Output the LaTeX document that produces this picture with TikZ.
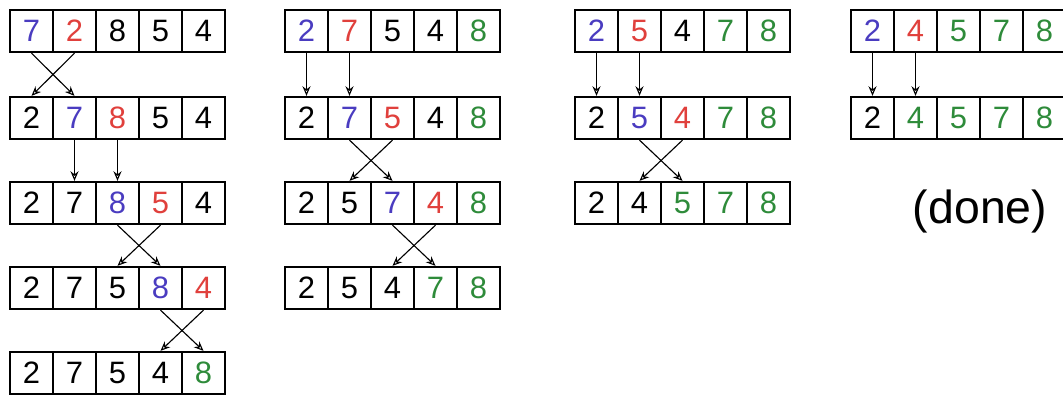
\documentclass[tikz,border=0pt]{standalone}
\usepackage{fontspec}
\setmainfont{Liberation Sans}
\usetikzlibrary{arrows.meta}
\definecolor{cblue}{HTML}{4A3CC0}
\definecolor{cred}{HTML}{E0403C}
\definecolor{cgreen}{HTML}{2E8B3A}
\tikzset{
  cell/.style={draw, line width=1.6pt, minimum width=1.075cm, minimum height=1.05cm, inner sep=0pt, font=\fontsize{22}{24}\selectfont},
  move/.style={-{Stealth[open, length=2.4mm, width=2mm]}, line width=0.8pt},
  note/.style={font=\fontsize{33}{36}\selectfont},
}
% one row of five cells, named #1-1 ... #1-5
\newcommand{\cellrow}[4]{%
  \foreach \v/\c [count=\i] in {#4}
    \node[cell, text=\c] (#1-\i) at ({#2+43*(\i-1)}, #3) {\v};}

\begin{document}
\begin{tikzpicture}[x=0.025cm, y=-0.025cm]
  \useasboundingbox (0,0) rectangle (1063,396);
  % pass 1
  \cellrow{p1r1}{31.5}{31}{7/cblue, 2/cred, 8/black, 5/black, 4/black}
  \cellrow{p1r2}{31.5}{118}{2/black, 7/cblue, 8/cred, 5/black, 4/black}
  \cellrow{p1r3}{31.5}{203}{2/black, 7/black, 8/cblue, 5/cred, 4/black}
  \cellrow{p1r4}{31.5}{288}{2/black, 7/black, 5/black, 8/cblue, 4/cred}
  \cellrow{p1r5}{31.5}{373}{2/black, 7/black, 5/black, 4/black, 8/cgreen}
  \draw[move] (p1r1-1.south) -- (p1r2-2.north);
  \draw[move] (p1r1-2.south) -- (p1r2-1.north);
  \draw[move] (p1r2-2.south) -- (p1r3-2.north);
  \draw[move] (p1r2-3.south) -- (p1r3-3.north);
  \draw[move] (p1r3-3.south) -- (p1r4-4.north);
  \draw[move] (p1r3-4.south) -- (p1r4-3.north);
  \draw[move] (p1r4-4.south) -- (p1r5-5.north);
  \draw[move] (p1r4-5.south) -- (p1r5-4.north);
  % pass 2
  \cellrow{p2r1}{306.5}{31}{2/cblue, 7/cred, 5/black, 4/black, 8/cgreen}
  \cellrow{p2r2}{306.5}{118}{2/black, 7/cblue, 5/cred, 4/black, 8/cgreen}
  \cellrow{p2r3}{306.5}{203}{2/black, 5/black, 7/cblue, 4/cred, 8/cgreen}
  \cellrow{p2r4}{306.5}{288}{2/black, 5/black, 4/black, 7/cgreen, 8/cgreen}
  \draw[move] (p2r1-1.south) -- (p2r2-1.north);
  \draw[move] (p2r1-2.south) -- (p2r2-2.north);
  \draw[move] (p2r2-2.south) -- (p2r3-3.north);
  \draw[move] (p2r2-3.south) -- (p2r3-2.north);
  \draw[move] (p2r3-3.south) -- (p2r4-4.north);
  \draw[move] (p2r3-4.south) -- (p2r4-3.north);
  % pass 3
  \cellrow{p3r1}{596.5}{31}{2/cblue, 5/cred, 4/black, 7/cgreen, 8/cgreen}
  \cellrow{p3r2}{596.5}{118}{2/black, 5/cblue, 4/cred, 7/cgreen, 8/cgreen}
  \cellrow{p3r3}{596.5}{203}{2/black, 4/black, 5/cgreen, 7/cgreen, 8/cgreen}
  \draw[move] (p3r1-1.south) -- (p3r2-1.north);
  \draw[move] (p3r1-2.south) -- (p3r2-2.north);
  \draw[move] (p3r2-2.south) -- (p3r3-3.north);
  \draw[move] (p3r2-3.south) -- (p3r3-2.north);
  % pass 4
  \cellrow{p4r1}{872.5}{31}{2/cblue, 4/cred, 5/cgreen, 7/cgreen, 8/cgreen}
  \cellrow{p4r2}{872.5}{118}{2/black, 4/cgreen, 5/cgreen, 7/cgreen, 8/cgreen}
  \draw[move] (p4r1-1.south) -- (p4r2-1.north);
  \draw[move] (p4r1-2.south) -- (p4r2-2.north);
  \node[note] (done) at (980,211) {(done)};
\end{tikzpicture}
\end{document}
